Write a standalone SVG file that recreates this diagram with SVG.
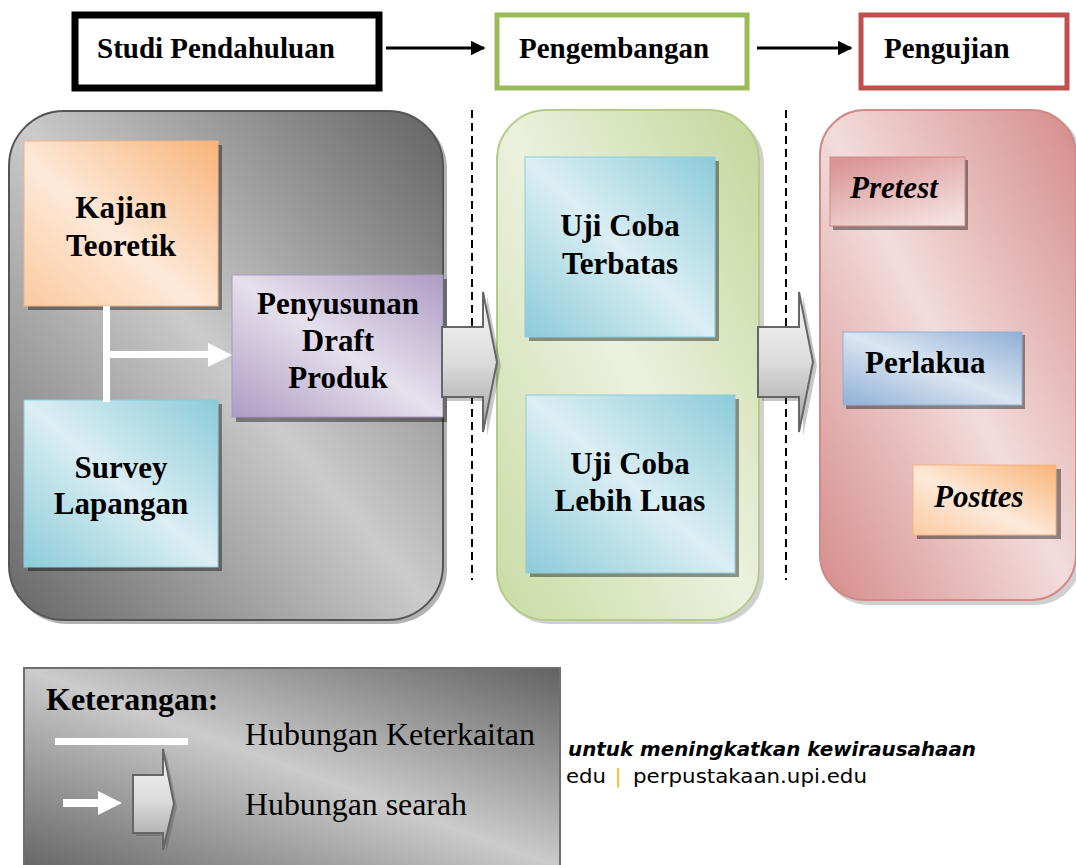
<svg xmlns="http://www.w3.org/2000/svg" width="1076" height="865" viewBox="0 0 1076 865">
<style>
.lbl{font-family:"Liberation Serif","Times New Roman",serif;font-weight:bold;font-size:31px;fill:#000;text-anchor:middle}
.top{font-family:"Liberation Serif","Times New Roman",serif;font-weight:bold;font-size:29px;fill:#000}
.it{font-style:italic;text-anchor:start}
.leg{font-family:"Liberation Serif","Times New Roman",serif;font-size:32px;fill:#000}
.dash{stroke:#000;stroke-width:2;stroke-dasharray:8 5;fill:none}
.shd{fill:#000;opacity:0.4}
.barrow{fill:url(#gArrow);stroke:#666;stroke-width:2;stroke-linejoin:miter}
.foot{font-family:"DejaVu Sans","Verdana",sans-serif;font-size:19px;fill:#000}
</style>
<defs>
<linearGradient id="gGray" x1="1" y1="0" x2="0" y2="1"><stop offset="0" stop-color="#626262"/><stop offset="0.5" stop-color="#cbcbcb"/><stop offset="1" stop-color="#666666"/></linearGradient>
<linearGradient id="gGreen" x1="1" y1="0" x2="0" y2="1"><stop offset="0" stop-color="#c3d69b"/><stop offset="0.5" stop-color="#ebf1de"/><stop offset="1" stop-color="#c9dba4"/></linearGradient>
<linearGradient id="gRed" x1="1" y1="0" x2="0" y2="1"><stop offset="0" stop-color="#d58c8a"/><stop offset="0.5" stop-color="#f2dcdb"/><stop offset="1" stop-color="#d58c8a"/></linearGradient>
<linearGradient id="gOrange" x1="1" y1="0" x2="0" y2="1"><stop offset="0" stop-color="#f8b47a"/><stop offset="0.55" stop-color="#fde9d9"/><stop offset="1" stop-color="#fbcaa0"/></linearGradient>
<linearGradient id="gBlue" x1="1" y1="0" x2="0" y2="1"><stop offset="0" stop-color="#8ccbda"/><stop offset="0.5" stop-color="#dbeef3"/><stop offset="1" stop-color="#8ccbda"/></linearGradient>
<linearGradient id="gPurple" x1="1" y1="0" x2="0" y2="1"><stop offset="0" stop-color="#ad9cc4"/><stop offset="0.5" stop-color="#e6e0ec"/><stop offset="1" stop-color="#ad9cc4"/></linearGradient>
<linearGradient id="gSteel" x1="1" y1="0" x2="0" y2="1"><stop offset="0" stop-color="#8fb0d6"/><stop offset="0.5" stop-color="#dbe5f1"/><stop offset="1" stop-color="#8fb0d6"/></linearGradient>
<linearGradient id="gPink" x1="0.2" y1="0" x2="0.8" y2="1"><stop offset="0" stop-color="#d99594"/><stop offset="0.45" stop-color="#e6b9b8"/><stop offset="1" stop-color="#f4e2e1"/></linearGradient>
<linearGradient id="gArrow" x1="0" y1="0" x2="0" y2="1"><stop offset="0" stop-color="#f7f7f7"/><stop offset="0.5" stop-color="#dcdcdc"/><stop offset="1" stop-color="#a0a0a0"/></linearGradient>
<marker id="ah" viewBox="0 0 10 10" refX="9" refY="5" markerWidth="5" markerHeight="5" orient="auto" markerUnits="strokeWidth"><path d="M0,0 L10,5 L0,10 z" fill="#000"/></marker>
</defs>

<!-- top phase boxes -->
<g id="phase-studi">
<rect x="75" y="15" width="304" height="73" fill="#fff" stroke="#000" stroke-width="7"/>
<text class="top" x="97" y="58">Studi Pendahuluan</text>
</g>
<g id="phase-pengembangan">
<rect x="497" y="15" width="250" height="73" fill="#fff" stroke="#9bbb59" stroke-width="5"/>
<text class="top" x="519" y="58">Pengembangan</text>
</g>
<g id="phase-pengujian">
<rect x="861" y="15" width="206" height="73" fill="#fff" stroke="#c0504d" stroke-width="5"/>
<text class="top" x="884" y="58">Pengujian</text>
</g>

<!-- panels -->
<g id="panel-studi">
<rect x="12" y="114" width="435" height="510" rx="55" fill="#555" opacity="0.45"/>
<rect x="9" y="111" width="434" height="509" rx="55" fill="url(#gGray)" stroke="#555" stroke-width="2"/>
</g>
<g id="panel-pengembangan">
<rect x="500" y="114" width="264" height="510" rx="50" fill="#777" opacity="0.35"/>
<rect x="497" y="110" width="262" height="510" rx="50" fill="url(#gGreen)" stroke="#b5cc88" stroke-width="2"/>
</g>
<g id="panel-pengujian">
<rect x="823" y="113" width="258" height="492" rx="45" fill="#777" opacity="0.35"/>
<rect x="820" y="110" width="256" height="490" rx="45" fill="url(#gRed)" stroke="#d08a88" stroke-width="2"/>
</g>

<!-- dashed separators -->
<line class="dash" x1="472" y1="110" x2="472" y2="580"/>
<line class="dash" x1="786" y1="110" x2="786" y2="580"/>

<!-- nodes -->
<g id="kajian">
<rect class="shd" x="28" y="145" width="194" height="165"/>
<rect x="24" y="141" width="194" height="165" fill="url(#gOrange)" stroke="#f4b183" stroke-width="1"/>
<text class="lbl" x="121" y="218">Kajian</text>
<text class="lbl" x="121" y="256">Teoretik</text>
</g>
<g id="survey">
<rect class="shd" x="28" y="404" width="194" height="167"/>
<rect x="24" y="400" width="194" height="167" fill="url(#gBlue)" stroke="#8ccbda" stroke-width="1"/>
<text class="lbl" x="121" y="478">Survey</text>
<text class="lbl" x="121" y="514">Lapangan</text>
</g>
<g id="penyusunan">
<rect class="shd" x="236" y="279" width="211" height="143"/>
<rect x="232" y="275" width="211" height="142" fill="url(#gPurple)" stroke="#a898c0" stroke-width="1"/>
<text class="lbl" x="338" y="314">Penyusunan</text>
<text class="lbl" x="338" y="351">Draft</text>
<text class="lbl" x="338" y="388">Produk</text>
</g>
<g id="uji-terbatas">
<rect class="shd" x="529" y="161" width="190" height="180"/>
<rect x="525" y="157" width="190" height="180" fill="url(#gBlue)" stroke="#8ccbda" stroke-width="1"/>
<text class="lbl" x="620" y="236">Uji Coba</text>
<text class="lbl" x="620" y="274">Terbatas</text>
</g>
<g id="uji-luas">
<rect class="shd" x="530" y="399" width="209" height="178"/>
<rect x="526" y="395" width="209" height="178" fill="url(#gBlue)" stroke="#8ccbda" stroke-width="1"/>
<text class="lbl" x="630" y="474">Uji Coba</text>
<text class="lbl" x="630" y="511">Lebih Luas</text>
</g>
<g id="pretest">
<rect class="shd" x="833" y="160" width="135" height="70"/>
<rect x="830" y="157" width="135" height="69" fill="url(#gPink)" stroke="#d08a88" stroke-width="1"/>
<text class="lbl it" x="850" y="198">Pretest</text>
</g>
<g id="perlakua">
<rect class="shd" x="846" y="335" width="179" height="74"/>
<rect x="843" y="332" width="179" height="73" fill="url(#gSteel)" stroke="#8fb0d6" stroke-width="1"/>
<text class="lbl" x="865" y="373" style="text-anchor:start">Perlakua</text>
</g>
<g id="posttes">
<rect class="shd" x="917" y="469" width="144" height="70"/>
<rect x="913" y="465" width="143" height="70" fill="url(#gOrange)" stroke="#f4b183" stroke-width="1"/>
<text class="lbl it" x="934" y="507">Posttes</text>
</g>

<!-- connectors -->
<g id="connectors">
<line x1="386" y1="48" x2="484" y2="48" stroke="#000" stroke-width="3" marker-end="url(#ah)"/>
<line x1="757" y1="48" x2="851" y2="48" stroke="#000" stroke-width="3" marker-end="url(#ah)"/>
<rect x="103" y="306" width="7" height="96" fill="#fff"/>
<rect x="110" y="351" width="100" height="7" fill="#fff"/>
<polygon points="208,343 232,355 208,367" fill="#fff"/>
<polygon points="446,331 487,331 487,296 501,366 487,436 487,401 446,401" fill="#444" opacity="0.3"/>
<polygon class="barrow" points="442,327 483,327 483,292 497,362 483,432 483,397 442,397"/>
<polygon points="762,331 803,331 803,296 817,366 803,436 803,401 762,401" fill="#444" opacity="0.3"/>
<polygon class="barrow" points="758,327 799,327 799,292 813,362 799,432 799,397 758,397"/>
</g>

<!-- footer text behind legend -->
<text class="foot" x="568" y="756" font-weight="bold" font-style="italic" textLength="408" lengthAdjust="spacingAndGlyphs">untuk meningkatkan kewirausahaan</text>
<text class="foot" x="566" y="783" textLength="40" lengthAdjust="spacingAndGlyphs">edu</text>
<text class="foot" x="615" y="783" style="fill:#f5b316">|</text>
<text class="foot" x="633" y="783" textLength="234" lengthAdjust="spacingAndGlyphs">perpustakaan.upi.edu</text>

<!-- legend -->
<g id="legend">
<rect x="24" y="668" width="536" height="200" fill="url(#gGray)" stroke="#6f6f6f" stroke-width="2"/>
<text x="46" y="710" style="font-family:'Liberation Serif','Times New Roman',serif;font-weight:bold;font-size:32px">Keterangan:</text>
<rect x="55" y="738" width="133" height="7" fill="#fff"/>
<text class="leg" x="245" y="745" textLength="290" lengthAdjust="spacingAndGlyphs">Hubungan Keterkaitan</text>
<rect x="63" y="799" width="37" height="8" fill="#fff"/>
<polygon points="98,791 122,803 98,815" fill="#fff"/>
<polygon points="136,778 166,778 166,752 177,807 166,853 166,836 136,836" fill="#444" opacity="0.3"/>
<polygon class="barrow" points="133,775 163,775 163,749 174,804 163,850 163,833 133,833"/>
<text class="leg" x="245" y="815" textLength="222" lengthAdjust="spacingAndGlyphs">Hubungan searah</text>
</g>
</svg>
